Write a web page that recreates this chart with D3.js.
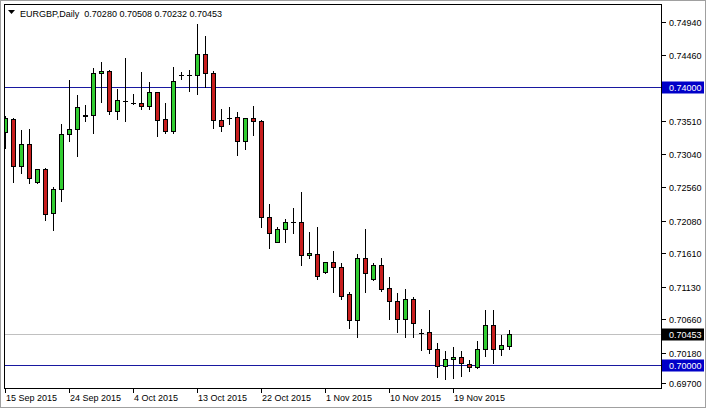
<!DOCTYPE html>
<html>
<head>
<meta charset="utf-8">
<script src="https://cdn.jsdelivr.net/npm/d3@7"></script>
<style>
  html, body { margin: 0; padding: 0; background: #fff; }
  svg text { font-family: Arial, "Liberation Sans", sans-serif; font-size: 9px; fill: #000; }
</style>
</head>
<body>
<div id="vis"></div>
<script>
// daily bars, EURGBP (Sunday bars included, as the broker shows them)
var dates = ["2015-09-15","2015-09-16","2015-09-17","2015-09-18","2015-09-20","2015-09-21","2015-09-22","2015-09-23",
  "2015-09-24","2015-09-25","2015-09-27","2015-09-28","2015-09-29","2015-09-30","2015-10-01","2015-10-02",
  "2015-10-04","2015-10-05","2015-10-06","2015-10-07","2015-10-08","2015-10-09","2015-10-11","2015-10-12",
  "2015-10-13","2015-10-14","2015-10-15","2015-10-16","2015-10-18","2015-10-19","2015-10-20","2015-10-21",
  "2015-10-22","2015-10-23","2015-10-25","2015-10-26","2015-10-27","2015-10-28","2015-10-29","2015-10-30",
  "2015-11-01","2015-11-02","2015-11-03","2015-11-04","2015-11-05","2015-11-06","2015-11-08","2015-11-09",
  "2015-11-10","2015-11-11","2015-11-12","2015-11-13","2015-11-15","2015-11-16","2015-11-17","2015-11-18",
  "2015-11-19","2015-11-20","2015-11-22","2015-11-23","2015-11-24","2015-11-25","2015-11-26","2015-11-27"];

var opens = [0.73357,0.73544,0.72868,0.73184,0.72637,0.72824,0.72191,0.72537,
  0.73328,0.73400,0.73601,0.73601,0.74206,0.74234,0.73659,0.73803,
  0.73781,0.73774,0.73731,0.73932,0.73544,0.73371,0.74177,0.74177,
  0.74177,0.74479,0.74206,0.73529,0.73565,0.73573,0.73227,0.73551,
  0.73515,0.72134,0.71781,0.71961,0.72062,0.72062,0.71587,0.71601,
  0.71342,0.71486,0.71414,0.71026,0.70652,0.71544,0.71242,0.71443,
  0.71105,0.70925,0.70673,0.70947,0.70469,0.70472,0.70235,0.69990,
  0.70086,0.70115,0.70019,0.69976,0.70235,0.70580,0.70235,0.70280];

var highs = [0.73587,0.73558,0.73386,0.73400,0.72830,0.72839,0.72565,0.73472,
  0.74105,0.73889,0.73745,0.74278,0.74364,0.74249,0.73975,0.74421,
  0.73903,0.74220,0.74076,0.73935,0.73774,0.74292,0.74213,0.74249,
  0.74911,0.74738,0.74234,0.73688,0.73716,0.73644,0.73565,0.73731,
  0.73529,0.72321,0.71990,0.72105,0.72263,0.72493,0.71918,0.71990,
  0.71493,0.71645,0.71472,0.71055,0.71601,0.71961,0.71479,0.71544,
  0.71270,0.71040,0.71098,0.70983,0.70529,0.70796,0.70321,0.70206,
  0.70263,0.70206,0.70083,0.70350,0.70796,0.70796,0.70436,0.70508];

var lows = [0.73127,0.72637,0.72767,0.72623,0.72630,0.72091,0.71947,0.72364,
  0.73227,0.73011,0.73515,0.73342,0.73788,0.73616,0.73544,0.73515,
  0.73760,0.73688,0.73688,0.73299,0.73342,0.73342,0.74119,0.73947,
  0.73903,0.74004,0.73414,0.73371,0.73472,0.73026,0.73112,0.73314,
  0.71990,0.71688,0.71774,0.71781,0.71904,0.71443,0.71544,0.71242,
  0.71335,0.71055,0.70954,0.70537,0.70407,0.71055,0.71227,0.71069,
  0.70666,0.70479,0.70407,0.70407,0.70220,0.70177,0.69832,0.69810,
  0.69817,0.69853,0.69911,0.69961,0.70134,0.70033,0.70148,0.70232];

var closes = [0.73558,0.72868,0.73184,0.72695,0.72824,0.72177,0.72537,0.73328,
  0.73400,0.73716,0.73594,0.74206,0.74234,0.73659,0.73817,0.73800,
  0.73781,0.73731,0.73932,0.73529,0.73371,0.74091,0.74177,0.74170,
  0.74479,0.74206,0.73529,0.73450,0.73565,0.73227,0.73558,0.73508,
  0.72134,0.71904,0.71968,0.72062,0.72062,0.71587,0.71616,0.71285,
  0.71486,0.71414,0.71004,0.70652,0.71544,0.71328,0.71443,0.71098,
  0.70925,0.70673,0.70947,0.70609,0.70469,0.70235,0.69990,0.70091,
  0.70115,0.70037,0.69976,0.70235,0.70580,0.70235,0.70292,0.70453];

var priceTicks = [0.74940,0.74460,0.73510,0.73040,0.72560,0.72080,0.71610,0.71130,0.70660,0.70180,0.69700];
var levelLines = [0.74000, 0.70000];
var bidPrice = 0.70453;
var dateTickIdx = [0, 8, 16, 24, 32, 40, 48, 56];
var dateTickText = ["15 Sep 2015","24 Sep 2015","4 Oct 2015","13 Oct 2015","22 Oct 2015","1 Nov 2015","10 Nov 2015","19 Nov 2015"];
var priceMin = 0.69669, priceMax = 0.75184;

var W = 706, H = 408;
var plot = {left: 4, right: 661, top: 4, bottom: 388};

var svg = d3.select("#vis").append("svg")
    .attr("width", W)
    .attr("height", H);

svg.append("rect").attr("width", W).attr("height", H).attr("fill", "#fff");

var x = d3.scalePoint()
    .domain(dates)
    .range([5.5, 5.5 + 8 * (dates.length - 1)]);
var y = d3.scaleLinear()
    .domain([priceMin, priceMax])
    .range([plot.bottom + 0.3, 5]);

function py(v) { return Math.round(y(v)) + 0.5; }

// clip for the plot
svg.append("clipPath").attr("id", "clip")
  .append("rect")
    .attr("x", plot.left + 1).attr("y", plot.top + 1)
    .attr("width", plot.right - plot.left - 1).attr("height", plot.bottom - plot.top - 1);

var g = svg.append("g").attr("clip-path", "url(#clip)");

// level lines + bid line
g.append("line")
    .attr("x1", plot.left).attr("x2", plot.right)
    .attr("y1", py(bidPrice)).attr("y2", py(bidPrice))
    .attr("stroke", "#c0c0c0");
g.selectAll(".lvl").data(levelLines).enter().append("line")
    .attr("x1", plot.left).attr("x2", plot.right)
    .attr("y1", function(d) { return py(d); })
    .attr("y2", function(d) { return py(d); })
    .attr("stroke", "#1818a0");

var bars = dates.map(function(d, i) {
  return {date: d, o: opens[i], h: highs[i], l: lows[i], c: closes[i]};
});

var candle = g.selectAll(".candle").data(bars).enter().append("g");

candle.append("line")
    .attr("x1", function(d) { return x(d.date); })
    .attr("x2", function(d) { return x(d.date); })
    .attr("y1", function(d) { return Math.round(y(d.h)); })
    .attr("y2", function(d) { return Math.round(y(d.l)) + 1; })
    .attr("stroke", "#000");

candle.each(function(d) {
  var sel = d3.select(this);
  var top = Math.round(y(Math.max(d.o, d.c)));
  var bot = Math.round(y(Math.min(d.o, d.c)));
  var cx = x(d.date);
  if (bot - top < 1) {
    sel.append("line")
      .attr("x1", cx - 2.5).attr("x2", cx + 2.5)
      .attr("y1", top + 0.5).attr("y2", top + 0.5)
      .attr("stroke", "#000");
  } else {
    sel.append("rect")
      .attr("x", cx - 2).attr("y", top + 0.5)
      .attr("width", 4).attr("height", bot - top)
      .attr("fill", d.c >= d.o ? "#32cd32" : "#c81e1e")
      .attr("stroke", "#000");
  }
});

// frame
svg.append("rect")
    .attr("x", plot.left + 0.5).attr("y", plot.top + 0.5)
    .attr("width", plot.right - plot.left).attr("height", plot.bottom - plot.top)
    .attr("fill", "none").attr("stroke", "#000");
svg.append("rect")
    .attr("x", 0.5).attr("y", 0.5).attr("width", W - 1).attr("height", H - 1)
    .attr("fill", "none").attr("stroke", "#a0a0a0");

// header
svg.append("path")
    .attr("d", "M8,10 L15,10 L11.5,14 Z")
    .attr("fill", "#000");
svg.append("text")
    .attr("x", 20).attr("y", 17)
    .attr("xml:space", "preserve")
    .text("EURGBP,Daily  " + [opens[63], highs[63], lows[63], closes[63]].map(function(v) { return v.toFixed(5); }).join(" "));

// right price scale
var ax = svg.append("g");
priceTicks.forEach(function(v) {
  var yy = Math.min(py(v), 383.5);
  ax.append("line").attr("x1", 662).attr("x2", 666).attr("y1", yy).attr("y2", yy).attr("stroke", "#000");
  ax.append("text").attr("x", 669).attr("y", yy + 3.5).text(v.toFixed(5));
});
function tag(v, bg) {
  var yy = py(v);
  ax.append("rect").attr("x", 662).attr("y", yy - 6).attr("width", 42).attr("height", 12).attr("fill", bg);
  ax.append("text").attr("x", 669).attr("y", yy + 3.5).style("fill", "#fff").text(v.toFixed(5));
}
levelLines.forEach(function(v) { tag(v, "#0000c8"); });
tag(bidPrice, "#000");

// bottom date scale
dateTickIdx.forEach(function(idx, k) {
  var xx = x(dates[idx]);
  ax.append("line").attr("x1", xx).attr("x2", xx).attr("y1", plot.bottom).attr("y2", plot.bottom + 5).attr("stroke", "#000");
  ax.append("text").attr("x", xx + 0.5).attr("y", 401).text(dateTickText[k]);
});
</script>
</body>
</html>
